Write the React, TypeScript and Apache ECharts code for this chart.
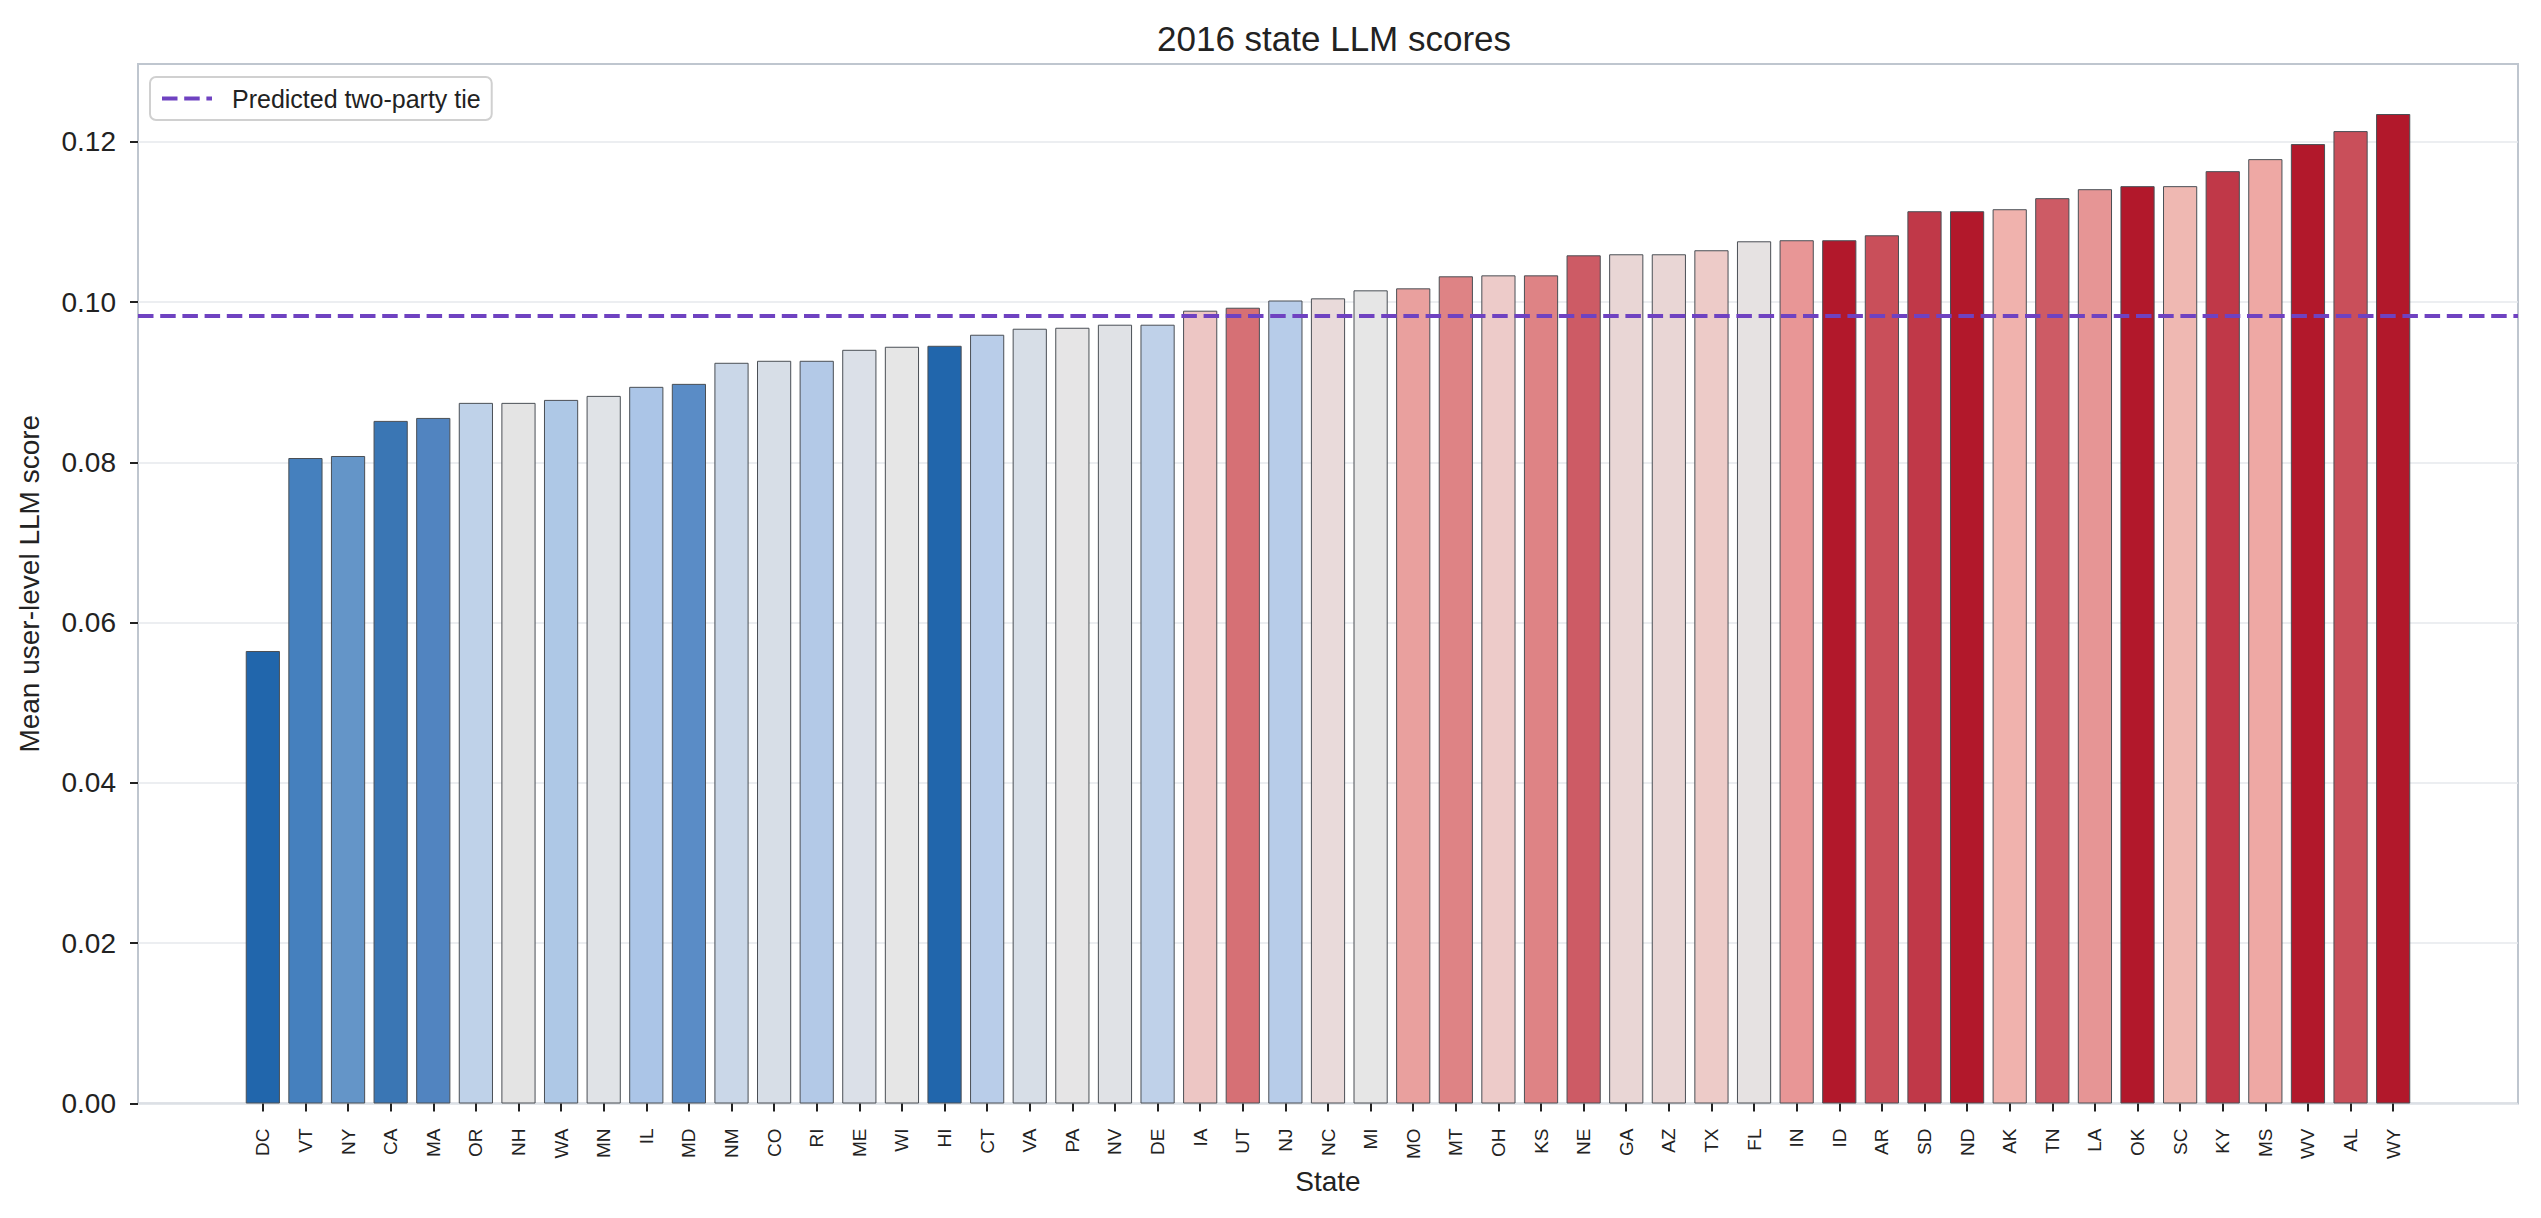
import React, { useEffect, useRef } from "react";
import * as echarts from "echarts";

const states = [
  "DC", "VT", "NY", "CA", "MA", "OR", "NH", "WA", "MN", "IL", "MD", "NM", "CO",
  "RI", "ME", "WI", "HI", "CT", "VA", "PA", "NV", "DE", "IA", "UT", "NJ", "NC",
  "MI", "MO", "MT", "OH", "KS", "NE", "GA", "AZ", "TX", "FL", "IN", "ID", "AR",
  "SD", "ND", "AK", "TN", "LA", "OK", "SC", "KY", "MS", "WV", "AL", "WY",
];

const scores = [
  0.05646, 0.08054, 0.08079, 0.08517, 0.08554, 0.08742, 0.08742, 0.08779, 0.08829,
  0.08942, 0.08979, 0.09242, 0.09267, 0.09267, 0.09404, 0.09442, 0.09454, 0.09592,
  0.09667, 0.09679, 0.09717, 0.09717, 0.09892, 0.09929, 0.10019, 0.10046, 0.10146,
  0.10171, 0.10321, 0.10333, 0.10333, 0.10583, 0.10596, 0.10596, 0.10646, 0.10758,
  0.10771, 0.10771, 0.10833, 0.11133, 0.11133, 0.11158, 0.11296, 0.11408, 0.11446,
  0.11446, 0.11633, 0.11783, 0.11971, 0.12133, 0.12346,
];

const tieValue = 0.09825;
const tieName = "Predicted two-party tie";

const yTicks = [0, 0.02, 0.04, 0.06, 0.08, 0.1, 0.12];

// style: per-bar fill colours (diverging blue–red)
const barColors = [
  "#2166ac", "#4580be", "#6495c8", "#3a76b4", "#5184c0", "#bfd2e9", "#e4e4e4",
  "#aec8e6", "#e0e3e7", "#abc5e7", "#5a8cc6", "#cad7e8", "#d7dee7", "#b3c9e7",
  "#dbe0e8", "#e6e6e6", "#2166ac", "#b9cde9", "#d7dee7", "#e6e5e6", "#e0e2e6",
  "#bfd1e9", "#edc6c4", "#d67075", "#b7cce9", "#e9dada", "#e6e6e6", "#e9a09e",
  "#de8385", "#edcbc9", "#de8385", "#cd5b65", "#e9d6d5", "#e9d6d5", "#edcbc8",
  "#e6e2e2", "#e89696", "#b2182b", "#c94f5a", "#c03848", "#b2182b", "#f0b2ad",
  "#cd5b65", "#e69595", "#b2182b", "#efb8b2", "#c03848", "#eea8a4", "#b2182b",
  "#c94f5a", "#b2182b",
];

const FONT = "'Liberation Sans', Arial, Helvetica, sans-serif";
const TEXT = "#222222";
const X_MARGIN = 2.93;

export default function App() {
  const ref = useRef<HTMLDivElement>(null);

  useEffect(() => {
    if (!ref.current) return;
    const chart = echarts.init(ref.current, undefined, { renderer: "svg" });
    const idx = states.map((_, i) => i);
    const xMin = -X_MARGIN;
    const xMax = states.length - 1 + X_MARGIN;

    chart.setOption({
      animation: false,
      backgroundColor: "#ffffff",
      textStyle: { fontFamily: FONT },
      title: {
        text: "2016 state LLM scores",
        left: 1152,
        top: 16,
        textStyle: { fontFamily: FONT, fontSize: 35, fontWeight: "normal", color: TEXT },
      },
      legend: {
        data: [tieName],
        left: 150,
        top: 77,
        orient: "vertical",
        padding: [9, 11, 9, 10],
        itemWidth: 50,
        itemHeight: 25,
        backgroundColor: "#ffffff",
        borderColor: "#d0d0d0",
        borderWidth: 2,
        borderRadius: 6,
        itemStyle: { opacity: 0 },
        lineStyle: { color: "#6f42c1", width: 4, type: [15.5, 6.7] },
        textStyle: { fontFamily: FONT, fontSize: 25, color: TEXT, padding: [0, 0, 0, 15] },
      },
      grid: {
        left: 138,
        right: 23,
        top: 64,
        bottom: 114.5,
        show: true,
        borderColor: "#bfc6cf",
        borderWidth: 2,
        backgroundColor: "transparent",
        containLabel: false,
      },
      xAxis: {
        type: "value",
        min: xMin,
        max: xMax,
        name: "State",
        nameLocation: "middle",
        nameGap: 62,
        nameTextStyle: { fontFamily: FONT, fontSize: 28, color: TEXT },
        axisLine: { show: false, onZero: false },
        splitLine: { show: false },
        axisTick: {
          show: true,
          customValues: idx,
          length: 8,
          lineStyle: { color: TEXT, width: 2 },
        },
        axisLabel: {
          show: true,
          customValues: idx,
          rotate: 90,
          margin: 25,
          fontFamily: FONT,
          fontSize: 19,
          color: TEXT,
          formatter: (v: number) => states[Math.round(v)] ?? "",
        },
      },
      yAxis: {
        type: "value",
        min: 0,
        max: 0.1297,
        interval: 0.02,
        name: "Mean user-level LLM score",
        nameLocation: "middle",
        nameGap: 95,
        nameTextStyle: { fontFamily: FONT, fontSize: 28, color: TEXT },
        axisLine: { show: false, onZero: false },
        axisTick: {
          show: true,
          customValues: yTicks,
          length: 8,
          lineStyle: { color: TEXT, width: 2 },
        },
        axisLabel: {
          customValues: yTicks,
          margin: 22,
          fontFamily: FONT,
          fontSize: 28,
          color: TEXT,
          formatter: (v: number) => v.toFixed(2),
        },
        splitLine: { show: true, lineStyle: { color: "#e6e9ed", width: 1.6 } },
      },
      series: [
        {
          type: "bar",
          name: "State LLM score",
          barWidth: 34.2,
          data: scores.map((v, i) => ({
            value: [i, v],
            itemStyle: { color: barColors[i], borderColor: "#4a4f55", borderWidth: 1 },
          })),
          z: 2,
        },
        {
          type: "line",
          name: tieName,
          symbol: "none",
          data: [
            [xMin, tieValue],
            [xMax, tieValue],
          ],
          lineStyle: { color: "#6f42c1", width: 4, type: [15.5, 6.7] },
          z: 5,
        },
      ],
    });

    return () => chart.dispose();
  }, []);

  return (
    <div
      ref={ref}
      style={{ position: "fixed", left: 0, top: 0, width: 2541, height: 1218, background: "#fff" }}
    />
  );
}
